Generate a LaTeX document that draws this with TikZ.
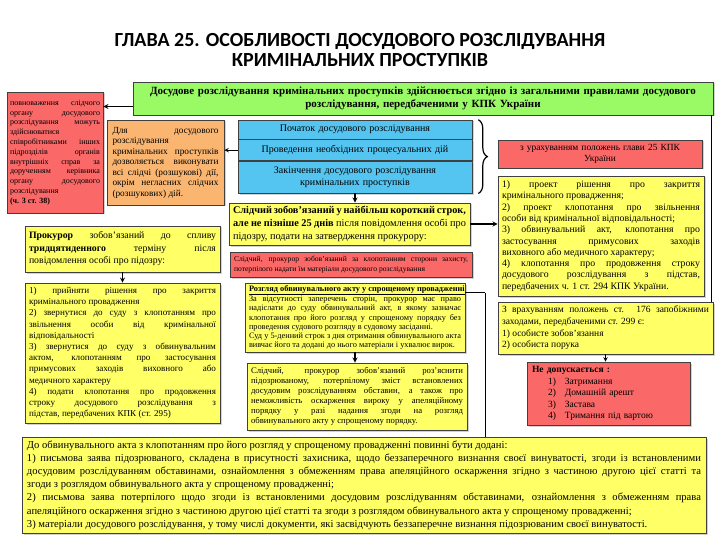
\documentclass[tikz,border=0pt]{standalone}
\usepackage{fontspec}
\setmainfont{Liberation Serif}
\newfontfamily\headfont{Carlito}
\usepackage{tikz}
\usetikzlibrary{positioning,decorations.pathreplacing,shadows}
\tikzset{>=stealth}
\tolerance=9999
\emergencystretch=2em
\hbadness=10000
\newcommand{\fsz}[2]{\fontsize{#1}{#2}\selectfont}
\definecolor{grn}{RGB}{153,250,102}
\definecolor{rd}{RGB}{250,104,104}
\definecolor{orng}{RGB}{250,182,112}
\definecolor{blu}{RGB}{84,196,240}
\definecolor{ylw}{RGB}{255,255,102}
\tikzset{
  box/.style={draw=black!75, line width=0.6pt, inner sep=2pt,
    drop shadow={shadow xshift=1.5pt, shadow yshift=-1.5pt, fill=black!35}},
  arr/.style={->, line width=1.3pt},
  link/.style={line width=1.2pt}
}

\begin{document}
\begin{tikzpicture}[x=1pt,y=-1pt]
    \fill[white] (0,0) rectangle (720,540);
    \useasboundingbox (0,0) rectangle (720,540);
    % set up the nodes
    \node[align=center, font=\headfont\bfseries\fsz{20}{20.5}] (title) at (360,50)
      {ГЛАВА 25. ОСОБЛИВОСТІ ДОСУДОВОГО РОЗСЛІДУВАННЯ\\КРИМІНАЛЬНИХ ПРОСТУПКІВ};
    \node[box, fill=grn, minimum width=580, minimum height=33, text width=570, align=center,
      font=\bfseries\fsz{11}{13.5}] (main) at (423,98.5)
      {Досудове розслідування кримінальних проступків здійснюється згідно із загальними правилами досудового\\розслідування, передбаченими у КПК України};
    \node[box, fill=rd, minimum width=96, minimum height=121, text width=90, align=justify,
      font=\fsz{8}{9.8}] (powers) at (55,152.5)
      {повноваження слідчого\linebreak органу досудового\linebreak розслідування можуть\linebreak здійснюватися\\
       співробітниками інших\linebreak підрозділів органів\linebreak внутрішніх справ за\linebreak дорученням керівника\linebreak органу досудового\linebreak розслідування\\
       \textbf{(ч. 3 ст. 38)}};
    \node[box, fill=orng, minimum width=117, minimum height=85, text width=106, align=justify,
      font=\fsz{9.3}{10.5}] (actions) at (165.5,162.5)
      {Для досудового розслідування кримінальних проступків дозволяється виконувати всі слідчі (розшукові) дії, окрім негласних слідчих (розшукових) дій.};
    \node[box, fill=blu, minimum width=234, minimum height=19, text width=226, align=center,
      font=\fsz{10}{11}] (start) at (355,129.5) {Початок досудового розслідування};
    \node[box, fill=blu, minimum width=234, minimum height=21, text width=226, align=center,
      font=\fsz{10}{11}, below=0pt of start] (conduct) {Проведення необхідних процесуальних дій};
    \node[box, fill=blu, minimum width=234, minimum height=32, text width=226, align=center,
      font=\fsz{10}{11.5}, below=0pt of conduct] (finish)
      {Закінчення досудового розслідування\\кримінальних проступків};
    \node[box, fill=rd, minimum width=204, minimum height=28, text width=196, align=center,
      font=\fsz{9.4}{11.5}] (chapter) at (600,154) {з урахуванням положень глави 25 КПК\\України};
    \node[box, fill=ylw, minimum width=206, minimum height=120, text width=198, align=justify,
      font=\fsz{9.8}{11.3}] (drafts) at (601,236)
      {1) проект рішення про закриття\linebreak кримінального провадження;\\
       2) проект клопотання про звільнення\linebreak особи від кримінальної відповідальності;\\
       3) обвинувальний акт, клопотання про\linebreak застосування примусових заходів\linebreak виховного або медичного характеру;\\
       4) клопотання про продовження строку\linebreak досудового розслідування з підстав,\linebreak передбачених ч. 1 ст. 294 КПК України.};
    \node[box, fill=ylw, minimum width=241, minimum height=42, text width=233, align=justify,
      font=\fsz{10.3}{13}] (invest) at (349.5,224)
      {\textbf{Слідчий зобов’язаний у найбільш короткий строк,\linebreak але не пізніше 25 днів} після повідомлення особі про\linebreak підозру, подати на затвердження прокурору:};
    \node[box, fill=rd, minimum width=242, minimum height=25, text width=234, align=justify,
      font=\fsz{7.6}{9.5}] (access) at (351,264.5)
      {Слідчий, прокурор зобов’язаний за клопотанням сторони захисту,\linebreak потерпілого надати їм матеріали досудового розслідування};
    \node[box, fill=ylw, minimum width=195, minimum height=46, text width=187, align=justify,
      font=\fsz{9.8}{12.5}] (prosec) at (122.5,249)
      {\textbf{Прокурор} зобов’язаний до спливу\linebreak \textbf{тридцятиденного} терміну після\linebreak повідомлення особі про підозру:};
    \node[box, fill=ylw, minimum width=195, minimum height=140, text width=187, align=justify,
      font=\fsz{9.1}{11.2}] (tasks) at (122.5,353)
      {1) прийняти рішення про закриття\linebreak кримінального провадження\\
       2) звернутися до суду з клопотанням про\linebreak звільнення особи від кримінальної\linebreak відповідальності\\
       3) звернутися до суду з обвинувальним\linebreak актом, клопотанням про застосування\linebreak примусових заходів виховного або\linebreak медичного характеру\\
       4) подати клопотання про продовження\linebreak строку досудового розслідування з\linebreak підстав, передбачених КПК (ст. 295)};
    \node[box, fill=ylw, minimum width=220, minimum height=69, text width=212, align=justify,
      font=\fsz{8.3}{9.2}] (review) at (355,317.5)
      {\textbf{\underline{Розгляд обвинувального акту у спрощеному провадженні}}\\
       За відсутності заперечень сторін, прокурор має право\linebreak надіслати до суду обвинувальний акт, в якому зазначає\linebreak клопотання про його розгляд у спрощеному порядку без\linebreak проведення судового розгляду в судовому засіданні.\\
       Суд у 5-денний строк з дня отримання обвинувального акта\linebreak вивчає його та додані до нього матеріали і ухвалює вирок.};
    \node[box, fill=ylw, minimum width=220, minimum height=67, text width=212, align=justify,
      font=\fsz{8.7}{10}] (explain) at (357,396.5)
      {Слідчий, прокурор зобов’язаний роз’яснити\linebreak підозрюваному, потерпілому зміст встановлених\linebreak досудовим розслідуванням обставин, а також про\linebreak неможливість оскарження вироку у апеляційному\linebreak порядку у разі надання згоди на розгляд\linebreak обвинувального акту у спрощеному порядку.};
    \node[box, fill=ylw, minimum width=215, minimum height=52, text width=207, align=justify,
      font=\fsz{9.5}{11.7}] (measures) at (605.5,328)
      {З врахуванням положень ст. 176 запобіжними\linebreak заходами, передбаченими ст. 299 є:\\
       1) особисте зобов’язання\\
       2) особиста порука};
    \node[box, fill=rd, minimum width=163, minimum height=63, text width=153, align=left,
      font=\fsz{9.5}{11.5}] (banned) at (608.5,393.5)
      {\textbf{Не допускається :}\\
       \hspace*{16pt}1)\hspace{9pt}Затримання\\
       \hspace*{16pt}2)\hspace{9pt}Домашній арешт\\
       \hspace*{16pt}3)\hspace{9pt}Застава\\
       \hspace*{16pt}4)\hspace{9pt}Тримання під вартою};
    \node[box, fill=ylw, minimum width=684, minimum height=96, text width=674, align=justify,
      font=\fsz{10.6}{13.2}] (attach) at (364,485)
      {До обвинувального акта з клопотанням про його розгляд у спрощеному провадженні повинні бути додані:\\
       1) письмова заява підозрюваного, складена в присутності захисника, щодо беззаперечного визнання своєї винуватості, згоди із встановленими\linebreak досудовим розслідуванням обставинами, ознайомлення з обмеженням права апеляційного оскарження згідно з частиною другою цієї статті та\linebreak згоди з розглядом обвинувального акта у спрощеному провадженні;\\
       2) письмова заява потерпілого щодо згоди із встановленими досудовим розслідуванням обставинами, ознайомлення з обмеженням права\linebreak апеляційного оскарження згідно з частиною другою цієї статті та згоди з розглядом обвинувального акта у спрощеному провадженні;\\
       3) матеріали досудового розслідування, у тому числі документи, які засвідчують беззаперечне визнання підозрюваним своєї винуватості.};
    % draw arrows and lines between them
    \draw[arr] ([yshift=-8pt]main.west) -- ([yshift=-8pt]main.west -| powers.east);
    \draw[arr, line width=1pt] (conduct.west) -- (conduct.west -| actions.east);
    \draw[decorate, decoration={brace, amplitude=9pt}, line width=1.2pt]
      ([xshift=6pt]start.north east) -- ([xshift=6pt]finish.south east);
    \draw[arr] (finish.south) -- (finish.south |- invest.north);
    \draw[arr] (invest.east) -- (invest.east -| drafts.west);
    \draw[arr] (prosec.south) -- (tasks.north);
    \draw[arr] (review.south) -- (review.south |- explain.north);
    \draw[link] ([yshift=25pt]review.east) -- ++(20,0) coordinate (turn);
    \draw[link] (turn) -- (turn |- attach.north);
    \draw[link] ([xshift=-2pt]main.south east) -- ([xshift=-2pt]main.south east |- measures.north);
    \draw[arr, line width=1pt] (measures.south) -- (measures.south |- banned.north);
\end{tikzpicture}
\end{document}
